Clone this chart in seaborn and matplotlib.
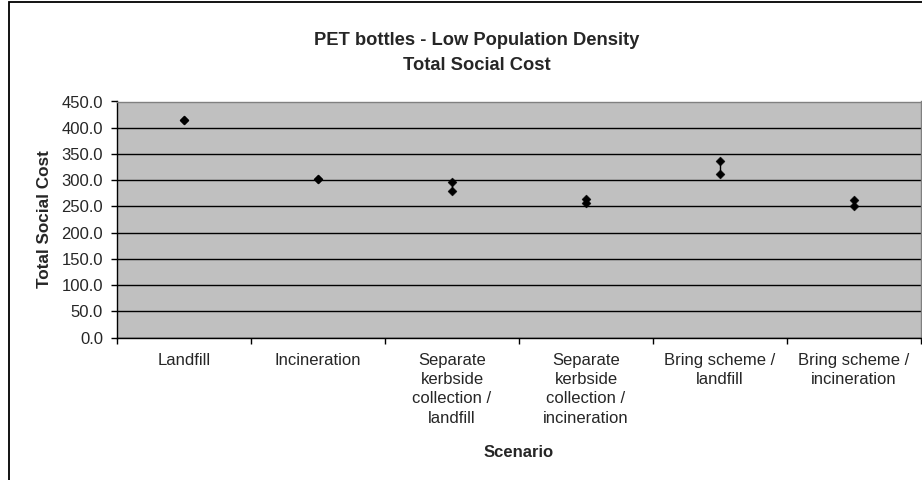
import numpy as np
import pandas as pd
import matplotlib
matplotlib.use("Agg")
import matplotlib.pyplot as plt
from matplotlib.patches import Rectangle
import seaborn as sns

# Scenarios on the x axis
scenarios = [
    "Landfill",
    "Incineration",
    "Separate kerbside collection / landfill",
    "Separate kerbside collection / incineration",
    "Bring scheme / landfill",
    "Bring scheme / incineration",
]
tick_labels = [
    "Landfill",
    "Incineration",
    "Separate\nkerbside\ncollection /\nlandfill",
    "Separate\nkerbside\ncollection /\nincineration",
    "Bring scheme /\nlandfill",
    "Bring scheme /\nincineration",
]
# Upper and lower estimates of total social cost per scenario
cost_high = [415.0, 302.0, 297.0, 264.0, 337.0, 263.0]
cost_low = [415.0, 302.0, 279.0, 257.0, 312.0, 251.0]
y_ticks = [0, 50, 100, 150, 200, 250, 300, 350, 400, 450]

rows = []
for i, name in enumerate(scenarios):
    rows.append({"scenario": name, "pos": i, "cost": cost_high[i], "estimate": "high"})
    rows.append({"scenario": name, "pos": i, "cost": cost_low[i], "estimate": "low"})
df = pd.DataFrame(rows)

sns.set_style("white")
plt.rcParams["font.family"] = ["Liberation Sans", "DejaVu Sans"]

fig = plt.figure(figsize=(9.22, 4.8), dpi=100)
ax = fig.add_axes([117 / 922, 1 - 337.5 / 480, (921 - 117) / 922, (337.5 - 101.5) / 480])
ax.set_facecolor("#C0C0C0")

# High-low connector lines, then the diamond markers
sns.lineplot(data=df, x="pos", y="cost", units="scenario", estimator=None,
             sort=False, color="black", linewidth=1.0, ax=ax, legend=False, zorder=3)
sns.scatterplot(data=df, x="pos", y="cost", marker="D", s=21, color="black",
                edgecolor="black", linewidth=0.3, ax=ax, legend=False, zorder=4)

ax.set_xlim(-0.5, len(scenarios) - 0.5)
ax.set_ylim(0, 450)
ax.set_yticks(y_ticks)
ax.set_yticklabels([f"{v:.1f}" for v in y_ticks])
ax.yaxis.grid(True, color="black", linewidth=1.0)
ax.xaxis.grid(False)
ax.set_axisbelow(True)

# Tick marks sit between categories, labels centred on each category
ax.set_xticks(np.arange(-0.5, len(scenarios), 1.0))
ax.set_xticklabels([])
ax.set_xticks(np.arange(len(scenarios)), minor=True)
ax.set_xticklabels(tick_labels, minor=True, fontsize=12, linespacing=1.36,
                   va="top", ha="center")
ax.tick_params(axis="x", which="major", direction="out", length=4, width=1,
               color="black", bottom=True)
ax.tick_params(axis="x", which="minor", length=0, pad=11)
ax.tick_params(axis="y", direction="out", length=4, width=1, color="black",
               labelsize=12, pad=6, left=True)

ax.set_xlabel("Scenario", fontsize=12, fontweight="bold", labelpad=14)
ax.set_ylabel("Total Social Cost", fontsize=12.3, fontweight="bold", labelpad=7)

for side in ("left", "bottom"):
    ax.spines[side].set_color("black")
    ax.spines[side].set_linewidth(1.0)
for side in ("top", "right"):
    ax.spines[side].set_color("#808080")
    ax.spines[side].set_linewidth(1.0)

fig.text(477 / 922, 1 - 53 / 480, "PET bottles - Low Population Density\nTotal Social Cost",
         ha="center", va="center", fontsize=13.2, fontweight="bold", linespacing=1.6)

# Chart area frame
fig.patches.append(Rectangle((8.5 / 922, -0.1), 1.2, 1 - 1.5 / 480 + 0.1,
                             transform=fig.transFigure, fill=False,
                             edgecolor="black", linewidth=1.3))

fig.savefig("out.png", dpi=100)
